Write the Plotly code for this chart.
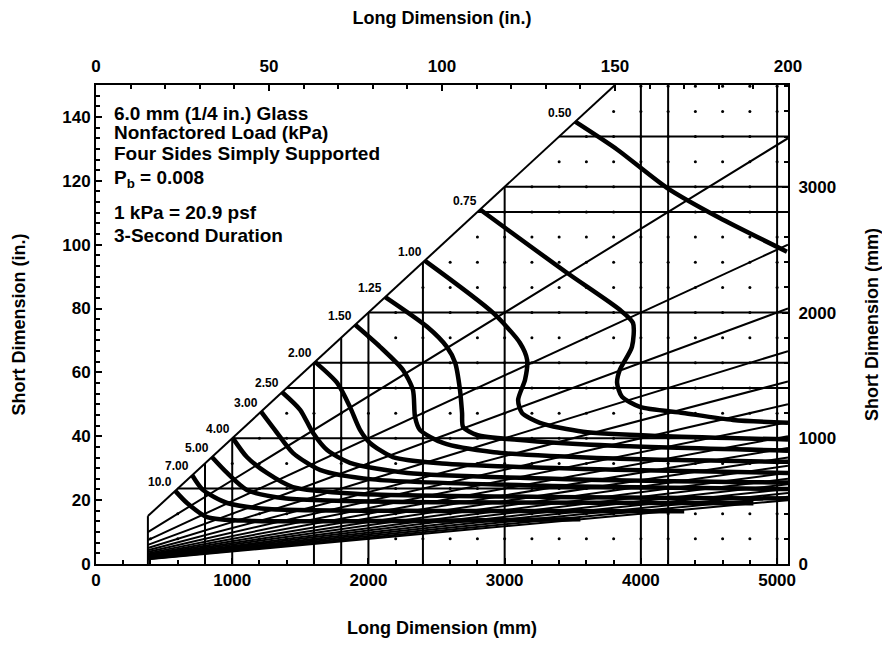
import plotly.graph_objects as go
import numpy as np

IN_MM = 25.4

# ---------------- axis ticks ----------------
bottom_ticks_mm = [0, 1000, 2000, 3000, 4000, 5000]
top_ticks_in = [0, 50, 100, 150, 200]
left_ticks_in = [0, 20, 40, 60, 80, 100, 120, 140]
right_ticks_mm = [0, 1000, 2000, 3000]

# ---------------- chart frame (inches) ----------------
min_long_in = 15.0
max_long_in = 200.0
max_short_in = 150.0

# aspect-ratio lines (long / short)
aspect_ratios = [1.0, 1.5, 2.0, 2.5, 3.0, 3.5, 4.0, 4.5, 5.0, 5.5, 6.0, 6.5, 7.0, 7.5, 8.0, 8.5, 9.0, 9.5, 10.0]

# standard-size grid lines (mm)
vertical_lines_mm = [381, 800, 1000, 1600, 1800, 2000, 2400, 3000, 4000, 4200, 5000]
horizontal_lines_mm = [600, 1000, 1400, 1600, 2000, 2800, 3000, 3400]
dot_step_mm = 200

# ---------------- load contours (kPa), (long in, short in) ----------------
load_labels = ["0.50", "0.75", "1.00", "1.25", "1.50", "2.00", "2.50", "3.00", "4.00", "5.00", "7.00", "10.0"]

c050_x = [138.5, 150.6, 165.0, 180.0, 199.7]
c050_y = [138.5, 129.8, 117.8, 108.5, 97.8]

c075_x = [111.0, 136.1, 151.4, 155.2, 154.9, 151.4, 150.6, 152.0, 157.2, 169.7, 184.1, 200.0]
c075_y = [111.0, 91.2, 79.6, 75.5, 68.0, 60.8, 56.7, 52.4, 49.2, 47.3, 45.1, 44.2]

c100_x = [95.0, 114.7, 122.5, 124.6, 124.0, 122.0, 123.1, 128.3, 140.8, 165.0, 200.0]
c100_y = [95.0, 78.7, 69.3, 63.9, 57.7, 51.4, 47.3, 44.2, 41.4, 40.0, 39.0]

c125_x = [83.6, 95.7, 101.4, 103.8, 105.2, 105.8, 106.1, 110.1, 121.7, 150.0, 200.0]
c125_y = [83.6, 74.3, 68.0, 63.0, 54.5, 47.3, 42.9, 40.4, 38.9, 37.0, 35.5]

c150_x = [74.9, 82.1, 88.7, 91.6, 92.2, 93.6, 100.3, 115.0, 150.0, 200.0]
c150_y = [74.9, 68.0, 60.8, 54.5, 46.1, 42.0, 37.9, 35.0, 33.0, 32.0]

c200_x = [63.3, 69.7, 73.4, 76.3, 79.2, 85.8, 100.0, 150.0, 200.0]
c200_y = [63.3, 56.7, 49.2, 42.0, 37.9, 33.5, 31.5, 29.5, 28.5]

c250_x = [53.8, 59.0, 62.7, 66.8, 73.4, 90.0, 140.0, 200.0]
c250_y = [53.8, 48.3, 41.1, 35.7, 31.7, 28.5, 26.5, 25.5]

c300_x = [47.7, 52.3, 56.9, 64.7, 80.0, 130.0, 200.0]
c300_y = [47.7, 41.1, 34.8, 29.5, 26.5, 24.5, 23.5]

c400_x = [39.5, 43.6, 49.4, 56.9, 75.0, 130.0, 200.0]
c400_y = [39.5, 33.5, 28.5, 24.1, 22.0, 21.0, 20.5]

c500_x = [33.5, 37.9, 43.6, 55.0, 100.0, 190.0]
c500_y = [33.5, 28.5, 23.2, 20.5, 19.3, 19.0]

c700_x = [27.8, 30.9, 37.9, 50.0, 100.0, 170.0]
c700_y = [27.8, 23.2, 19.1, 17.2, 16.6, 16.5]

c1000_x = [22.9, 26.3, 32.1, 45.0, 90.0, 140.0]
c1000_y = [22.9, 19.1, 14.7, 13.5, 13.5, 14.0]

contours = [
    (c050_x, c050_y), (c075_x, c075_y), (c100_x, c100_y), (c125_x, c125_y),
    (c150_x, c150_y), (c200_x, c200_y), (c250_x, c250_y), (c300_x, c300_y),
    (c400_x, c400_y), (c500_x, c500_y), (c700_x, c700_y), (c1000_x, c1000_y),
]

# ---------------- notes ----------------
note_lines = [
    "6.0 mm (1/4 in.) Glass",
    "Nonfactored Load (kPa)",
    "Four Sides Simply Supported",
    "P<sub>b</sub> = 0.008",
    "1 kPa = 20.9 psf",
    "3-Second Duration",
]
note_y_in = [141.2, 135.0, 128.4, 120.6, 110.2, 103.0]
note_x_in = 4.6

FONT = "Liberation Sans"
BLACK = "#000000"

fig = go.Figure()

# thin lines: aspect ratio fan + grid lines
lx, ly = [], []
for ar in aspect_ratios:
    x_end = min(max_long_in, max_short_in * ar)
    lx += [min_long_in, x_end, None]
    ly += [min_long_in / ar, x_end / ar, None]
for v in vertical_lines_mm:
    xv = v / IN_MM
    lx += [xv, xv, None]
    ly += [0, min(xv, max_short_in), None]
for h in horizontal_lines_mm:
    yh = h / IN_MM
    lx += [yh, max_long_in, None]
    ly += [yh, yh, None]

fig.add_trace(go.Scatter(x=lx, y=ly, mode="lines", line=dict(color=BLACK, width=2),
                         hoverinfo="skip", showlegend=False))

# dot grid (200 mm) to the right of the diagonal
dxs, dys = [], []
for xm in np.arange(dot_step_mm, 5000 + 1, dot_step_mm):
    for ym in np.arange(dot_step_mm, 3800 + 1, dot_step_mm):
        if xm > ym:
            dxs.append(xm / IN_MM)
            dys.append(ym / IN_MM)
fig.add_trace(go.Scatter(x=dxs, y=dys, mode="markers", marker=dict(color=BLACK, size=3),
                         hoverinfo="skip", showlegend=False))

# load contours
for (cx, cy), lab in zip(contours, load_labels):
    fig.add_trace(go.Scatter(x=cx, y=cy, mode="lines", name=lab,
                             line=dict(color=BLACK, width=4.5, shape="spline", smoothing=0.7),
                             showlegend=False))
    fig.add_annotation(x=cx[0], y=cy[0], text=lab, showarrow=False,
                       xanchor="right", yanchor="bottom", xshift=-1, yshift=0,
                       font=dict(family=FONT, size=12, color=BLACK, weight="bold"))

# invisible trace to activate secondary axes
fig.add_trace(go.Scatter(x=[0], y=[0], xaxis="x2", yaxis="y2", mode="markers",
                         marker=dict(opacity=0), hoverinfo="skip", showlegend=False))

for txt, yv in zip(note_lines, note_y_in):
    fig.add_annotation(x=note_x_in, y=yv, text=txt, showarrow=False,
                       xanchor="left", yanchor="middle",
                       font=dict(family=FONT, size=19, color=BLACK, weight="bold"))

tickfont = dict(family=FONT, size=17, color=BLACK, weight="bold")
titlefont = dict(family=FONT, size=18, color=BLACK, weight="bold")

axis_common = dict(showgrid=False, zeroline=False, showline=True, linecolor=BLACK,
                   linewidth=2, ticks="inside", tickcolor=BLACK, ticklen=6,
                   tickwidth=1.5, tickfont=tickfont, automargin=False)

# page body adds an 8 px margin; the figure is sized so that the plot frame lands
# at x 96..788, y 85..564 of the window
fig.update_layout(
    width=874, height=630,
    margin=dict(l=88, r=94, t=77, b=74),
    paper_bgcolor="white", plot_bgcolor="white",
    xaxis=dict(range=[0, max_long_in], tickvals=[v / IN_MM for v in bottom_ticks_mm],
               ticktext=[str(v) for v in bottom_ticks_mm], side="bottom",
               title=dict(text="Long Dimension (mm)", font=titlefont, standoff=33),
               minor=dict(tickvals=[v / IN_MM for v in range(200, 5001, 200)],
                          ticks="inside", ticklen=4, tickcolor=BLACK),
               **axis_common),
    xaxis2=dict(range=[0, max_long_in], tickvals=top_ticks_in,
                ticktext=[str(v) for v in top_ticks_in], side="top", overlaying="x",
                title=dict(text="Long Dimension (in.)", font=titlefont, standoff=36),
                ticklabelstandoff=4,
                minor=dict(dtick=10, ticks="inside", ticklen=4, tickcolor=BLACK),
                **axis_common),
    yaxis=dict(range=[0, max_short_in], tickvals=left_ticks_in,
               ticktext=[str(v) for v in left_ticks_in],
               title=dict(text="Short Dimension (in.)", font=titlefont, standoff=32),
               minor=dict(dtick=10 / 3, ticks="inside", ticklen=4, tickcolor=BLACK),
               **axis_common),
    yaxis2=dict(range=[0, max_short_in], tickvals=[v / IN_MM for v in right_ticks_mm],
                ticktext=[str(v) for v in right_ticks_mm], side="right", overlaying="y",
                title=dict(text="Short Dimension (mm)", font=titlefont, standoff=32),
                ticklabelstandoff=5,
                minor=dict(tickvals=[v / IN_MM for v in range(200, 3801, 200)],
                           ticks="inside", ticklen=4, tickcolor=BLACK),
                **axis_common),
)

fig.write_html("out.html")
